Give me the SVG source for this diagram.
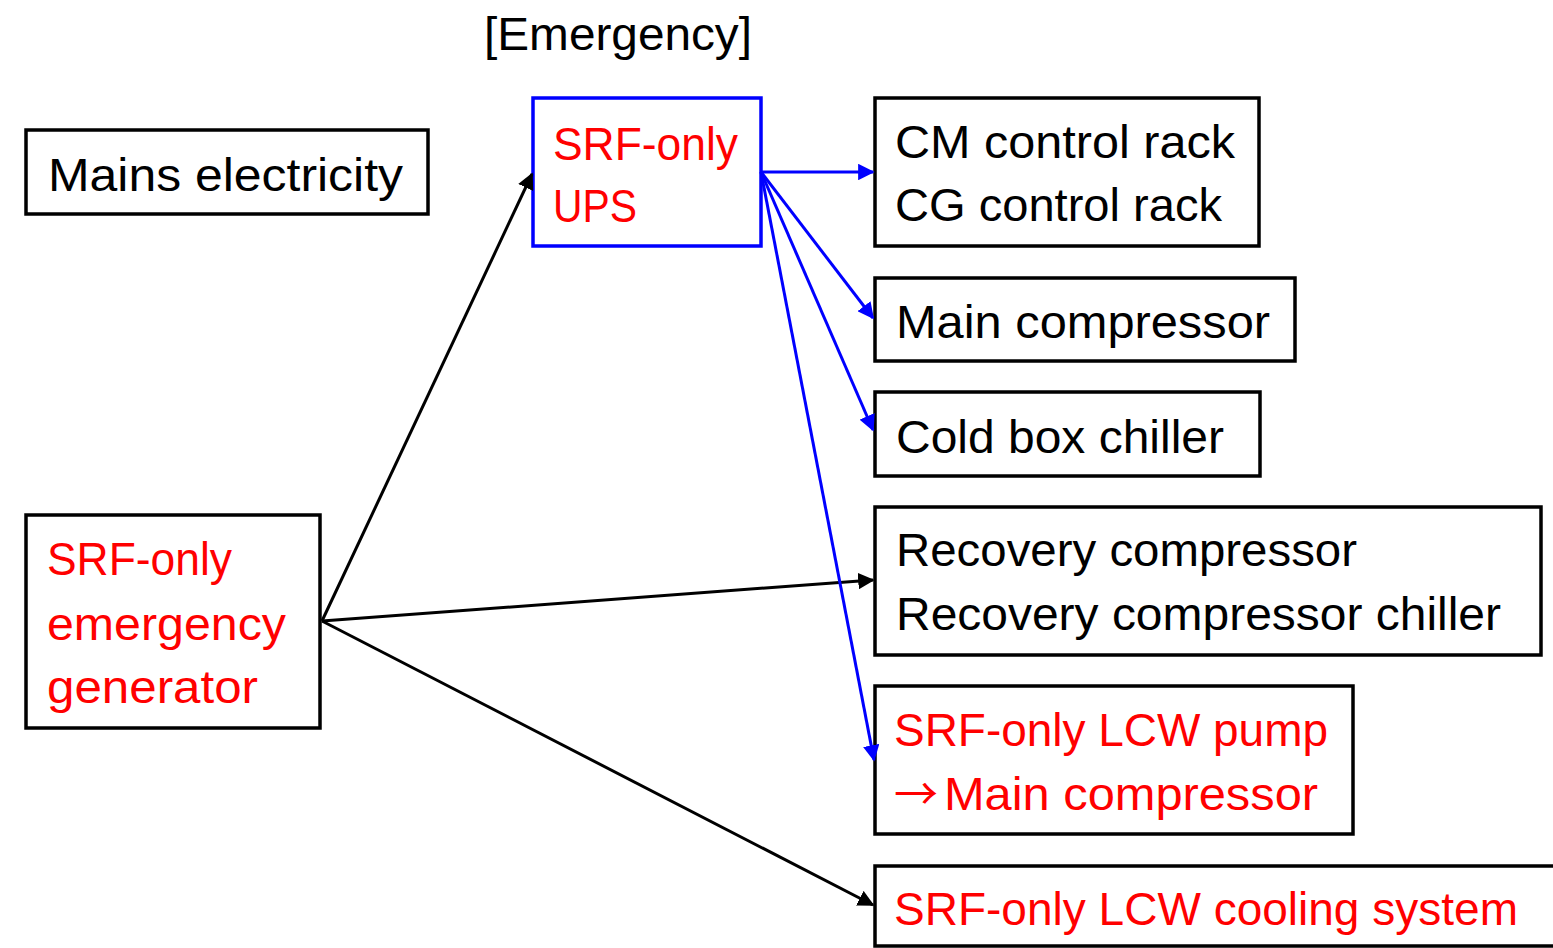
<svg xmlns="http://www.w3.org/2000/svg" width="1553" height="948" viewBox="0 0 1553 948">
<style>
.box{fill:#fff;stroke:#000;stroke-width:3.5}
.ubox{fill:#fff;stroke:#0000ff;stroke-width:3.5}
text{font-family:"Liberation Sans",Arial,sans-serif;font-size:46px}
.k{fill:#000}
.r{fill:#ff0000}
.cb{stroke:#000;stroke-width:3;fill:none}
.cu{stroke:#0000ff;stroke-width:3;fill:none}
</style>
<defs>
<marker id="ab" viewBox="0 0 10 10" refX="9" refY="5" markerWidth="5.5" markerHeight="5.5" orient="auto" markerUnits="strokeWidth"><path d="M0,0L10,5L0,10z" fill="#000"/></marker>
<marker id="au" viewBox="0 0 10 10" refX="9" refY="5" markerWidth="5.5" markerHeight="5.5" orient="auto" markerUnits="strokeWidth"><path d="M0,0L10,5L0,10z" fill="#0000ff"/></marker>
</defs>
<rect width="1553" height="948" fill="#fff"/>
<text class="k" x="484" y="50" textLength="268" lengthAdjust="spacingAndGlyphs">[Emergency]</text>
<g id="mains"><rect class="box" x="26" y="130" width="402" height="84"/><text class="k" x="48" y="191" textLength="355" lengthAdjust="spacingAndGlyphs">Mains electricity</text></g>
<g id="generator"><rect class="box" x="26" y="515" width="294" height="213"/>
<text class="r" x="47" y="575" textLength="185" lengthAdjust="spacingAndGlyphs">SRF-only</text>
<text class="r" x="47" y="640" textLength="239" lengthAdjust="spacingAndGlyphs">emergency</text>
<text class="r" x="47" y="703" textLength="211" lengthAdjust="spacingAndGlyphs">generator</text></g>
<g id="ups"><rect class="ubox" x="533" y="98" width="228" height="148"/>
<text class="r" x="553" y="160" textLength="185" lengthAdjust="spacingAndGlyphs">SRF-only</text>
<text class="r" x="553" y="222" textLength="84" lengthAdjust="spacingAndGlyphs">UPS</text></g>
<g id="racks"><rect class="box" x="875" y="98" width="384" height="148"/>
<text class="k" x="895" y="158" textLength="340" lengthAdjust="spacingAndGlyphs">CM control rack</text>
<text class="k" x="895" y="221" textLength="327" lengthAdjust="spacingAndGlyphs">CG control rack</text></g>
<g id="maincomp"><rect class="box" x="875" y="278" width="420" height="83"/>
<text class="k" x="896" y="338" textLength="374" lengthAdjust="spacingAndGlyphs">Main compressor</text></g>
<g id="coldbox"><rect class="box" x="875" y="392" width="385" height="84"/>
<text class="k" x="896" y="453" textLength="328" lengthAdjust="spacingAndGlyphs">Cold box chiller</text></g>
<g id="recovery"><rect class="box" x="875" y="507" width="666" height="148"/>
<text class="k" x="896" y="566" textLength="461" lengthAdjust="spacingAndGlyphs">Recovery compressor</text>
<text class="k" x="896" y="630" textLength="605" lengthAdjust="spacingAndGlyphs">Recovery compressor chiller</text></g>
<g id="lcwpump"><rect class="box" x="875" y="686" width="478" height="148"/>
<text class="r" x="894" y="746" textLength="434" lengthAdjust="spacingAndGlyphs">SRF-only LCW pump</text>
<text class="r" x="894" y="810"><tspan font-family="'Noto Sans CJK JP',sans-serif" font-size="44">→</tspan><tspan x="944" textLength="374" lengthAdjust="spacingAndGlyphs">Main compressor</tspan></text></g>
<g id="lcwcool"><rect class="box" x="875" y="866" width="700" height="80"/>
<text class="r" x="894" y="925" textLength="624" lengthAdjust="spacingAndGlyphs">SRF-only LCW cooling system</text></g>
<g id="connectors">
<line class="cb" x1="322" y1="621" x2="532" y2="174" marker-end="url(#ab)"/>
<line class="cb" x1="322" y1="621" x2="873" y2="580" marker-end="url(#ab)"/>
<line class="cb" x1="322" y1="621" x2="873" y2="905" marker-end="url(#ab)"/>
<line class="cu" x1="761" y1="172" x2="873" y2="172" marker-end="url(#au)"/>
<line class="cu" x1="761" y1="172" x2="873" y2="318" marker-end="url(#au)"/>
<line class="cu" x1="761" y1="172" x2="873" y2="430" marker-end="url(#au)"/>
<line class="cu" x1="761" y1="172" x2="874" y2="760" marker-end="url(#au)"/>
</g>
</svg>
